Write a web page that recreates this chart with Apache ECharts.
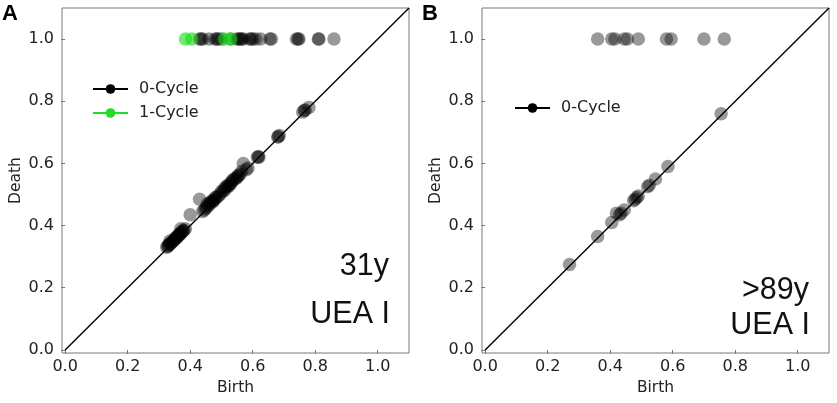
<!DOCTYPE html>
<html><head><meta charset="utf-8">
<script src="https://cdn.jsdelivr.net/npm/echarts@6/dist/echarts.min.js"></script>
<style>html,body{margin:0;padding:0;background:#fff}#c{width:837px;height:403px}</style>
</head><body><div id="c"></div>
<script>
// ---- data ----
const tickValues = [0, 0.2, 0.4, 0.6, 0.8, 1.0];
const diagLine = [[0, 0], [1.1, 1.1]];
// Panel A (31y): 0-cycle points near the diagonal [birth, death]
const aZeroDiag = [
  [0.325,0.33],[0.328,0.333],[0.33,0.335],[0.332,0.34],[0.335,0.34],[0.338,0.343],[0.34,0.345],
  [0.335,0.35],[0.345,0.35],[0.348,0.352],[0.35,0.355],[0.352,0.36],[0.355,0.36],[0.358,0.362],
  [0.36,0.365],[0.362,0.37],[0.365,0.37],[0.368,0.372],[0.37,0.375],[0.372,0.38],[0.375,0.38],
  [0.378,0.383],[0.38,0.385],[0.37,0.39],[0.385,0.39],[0.40,0.435],[0.43,0.485],[0.44,0.445],
  [0.445,0.45],[0.45,0.455],[0.452,0.46],[0.455,0.47],[0.46,0.465],[0.462,0.47],[0.465,0.475],
  [0.47,0.48],[0.472,0.476],[0.475,0.48],[0.478,0.485],[0.48,0.49],[0.485,0.49],[0.49,0.495],
  [0.495,0.5],[0.50,0.51],[0.505,0.51],[0.51,0.52],[0.512,0.515],[0.515,0.525],[0.52,0.53],
  [0.522,0.526],[0.525,0.53],[0.53,0.535],[0.532,0.54],[0.535,0.545],[0.54,0.55],[0.545,0.55],
  [0.55,0.555],[0.552,0.56],[0.555,0.56],[0.56,0.565],[0.565,0.575],[0.57,0.60],[0.58,0.58],
  [0.585,0.585],[0.615,0.62],[0.62,0.62],[0.618,0.622],[0.68,0.685],[0.685,0.69],[0.682,0.686],
  [0.76,0.765],[0.765,0.77],[0.768,0.772],[0.78,0.78]
];
// Panel A: 0-cycle points that never die (death plotted at 1.0)
const aZeroInf = [
  [0.43,1.0],[0.435,1.0],[0.44,1.0],[0.46,1.0],[0.48,1.0],[0.485,1.0],[0.49,1.0],[0.50,1.0],
  [0.53,1.0],[0.55,1.0],[0.555,1.0],[0.56,1.0],[0.565,1.0],[0.57,1.0],[0.59,1.0],[0.595,1.0],
  [0.60,1.0],[0.61,1.0],[0.625,1.0],[0.655,1.0],[0.66,1.0],[0.74,1.0],[0.745,1.0],[0.748,1.0],
  [0.81,1.0],[0.812,1.0],[0.86,1.0]
];
// Panel A: 1-cycle points
const aOneInf = [[0.385,1.0],[0.405,1.0],[0.51,1.0],[0.53,1.0]];
// Panel B (>89y)
const bZeroDiag = [
  [0.27,0.275],[0.36,0.365],[0.405,0.41],[0.42,0.44],[0.43,0.435],[0.435,0.44],[0.445,0.45],
  [0.475,0.48],[0.48,0.485],[0.485,0.49],[0.49,0.495],[0.52,0.525],[0.525,0.53],[0.545,0.55],
  [0.585,0.59],[0.755,0.76]
];
const bZeroInf = [
  [0.36,1.0],[0.405,1.0],[0.415,1.0],[0.445,1.0],[0.455,1.0],[0.49,1.0],
  [0.58,1.0],[0.595,1.0],[0.70,1.0],[0.765,1.0]
];
const legendA = ['0-Cycle', '1-Cycle'];
const legendB = ['0-Cycle'];

// ---- chart ----
const FONT = 'DejaVu Sans';
const GREY = '#7a7a7a';
const BLACK_PT = 'rgba(0,0,0,0.5)';
const GREEN_PT = 'rgba(20,220,20,0.75)';
function xAx(i) {
  return {
    type: 'value', gridIndex: i, min: -0.01, max: 1.1,
    name: 'Birth', nameLocation: 'middle', nameGap: 27,
    nameTextStyle: { fontFamily: FONT, fontSize: 15.5, color: '#222' },
    axisLine: { show: false },
    axisTick: { show: true, length: 4, customValues: tickValues, lineStyle: { color: GREY } },
    axisLabel: { customValues: tickValues, margin: 6, fontFamily: FONT, fontSize: 16, color: '#222',
      formatter: v => v.toFixed(1) },
    splitLine: { show: false }
  };
}
function yAx(i) {
  return {
    type: 'value', gridIndex: i, min: -0.01, max: 1.1,
    name: 'Death', nameLocation: 'middle', nameGap: 38,
    nameTextStyle: { fontFamily: FONT, fontSize: 15.5, color: '#222' },
    axisLine: { show: false },
    axisTick: { show: true, length: 4, customValues: tickValues, lineStyle: { color: GREY } },
    axisLabel: { customValues: tickValues, margin: 8, fontFamily: FONT, fontSize: 16, color: '#222',
      formatter: v => v.toFixed(1) },
    splitLine: { show: false }
  };
}
function scat(name, data, i, color) {
  return { type: 'scatter', name: name, xAxisIndex: i, yAxisIndex: i, data: data,
    symbol: 'circle', symbolSize: 13.5, itemStyle: { color: color, borderWidth: 0 },
    emphasis: { disabled: true }, silent: true, legendHoverLink: false };
}
function diag(i) {
  return { type: 'line', name: 'diag', xAxisIndex: i, yAxisIndex: i, data: diagLine,
    showSymbol: false, symbol: 'none', lineStyle: { color: '#000', width: 1.4 }, z: 5, silent: true };
}
function dummy(name, i, color) {
  return { type: 'line', name: name, xAxisIndex: i, yAxisIndex: i, data: [],
    symbol: 'circle', symbolSize: 10, itemStyle: { color: color }, lineStyle: { color: color, width: 2.5 } };
}
const legendText = { fontFamily: FONT, fontSize: 16, color: '#222', lineHeight: 16, padding: [0, 0, 0, 6] };
const chart = echarts.init(document.getElementById('c'), null, { renderer: 'canvas' });
chart.setOption({
  animation: false,
  backgroundColor: '#fff',
  grid: [
    { left: 62, top: 8, width: 347, height: 345, show: true, borderColor: GREY, borderWidth: 1, backgroundColor: 'transparent' },
    { left: 482, top: 8, width: 347, height: 345, show: true, borderColor: GREY, borderWidth: 1, backgroundColor: 'transparent' }
  ],
  xAxis: [xAx(0), xAx(1)],
  yAxis: [yAx(0), yAx(1)],
  legend: [
    { data: legendA, orient: 'vertical', left: 87, top: 76, itemWidth: 35, itemHeight: 12, itemGap: 8,
      selectedMode: false, textStyle: legendText },
    { data: legendB, orient: 'vertical', left: 509, top: 95, itemWidth: 35, itemHeight: 12, itemGap: 8,
      selectedMode: false, textStyle: legendText }
  ],
  graphic: [
    { type: 'text', left: 2, top: 3, style: { text: 'A', fontFamily: 'Liberation Sans', fontWeight: 'bold', fontSize: 22, fill: '#000' } },
    { type: 'text', left: 422, top: 3, style: { text: 'B', fontFamily: 'Liberation Sans', fontWeight: 'bold', fontSize: 22, fill: '#000' } },
    { type: 'text', right: 837 - 389, top: 251, style: { text: '31y', fontFamily: 'Liberation Sans', fontSize: 30.5, fill: '#111' } },
    { type: 'text', right: 837 - 390, top: 299, style: { text: 'UEA I', fontFamily: 'Liberation Sans', fontSize: 30.5, fill: '#111' } },
    { type: 'text', right: 837 - 809, top: 275, style: { text: '>89y', fontFamily: 'Liberation Sans', fontSize: 30.5, fill: '#111' } },
    { type: 'text', right: 837 - 810, top: 310, style: { text: 'UEA I', fontFamily: 'Liberation Sans', fontSize: 30.5, fill: '#111' } }
  ],
  series: [
    scat('zeroA', aZeroDiag, 0, BLACK_PT),
    scat('zeroA', aZeroInf, 0, BLACK_PT),
    scat('oneA', aOneInf, 0, GREEN_PT),
    diag(0),
    scat('zeroB', bZeroDiag, 1, BLACK_PT),
    scat('zeroB', bZeroInf, 1, BLACK_PT),
    diag(1),
    dummy('0-Cycle', 0, '#000'),
    dummy('1-Cycle', 0, '#22dd22')
  ]
});
</script>
</body></html>
